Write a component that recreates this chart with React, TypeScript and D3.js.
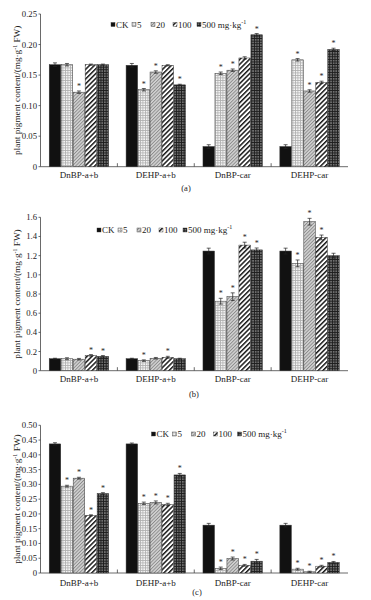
import React from "react";
import * as d3 from "d3";

const categories = ["DnBP-a+b", "DEHP-a+b", "DnBP-car", "DEHP-car"];
const seriesKeys = ["CK", "5", "20", "100", "500"];
const legendLabels = ["CK", "5", "20", "100", "500 mg·kg"];
const captions = ["(a)", "(b)", "(c)"];

// panel (a)
const valuesA = [
  [0.167, 0.167, 0.122, 0.167, 0.167],
  [0.166, 0.126, 0.155, 0.166, 0.134],
  [0.033, 0.153, 0.158, 0.178, 0.216],
  [0.033, 0.175, 0.124, 0.138, 0.192],
];
const errorsA = [
  [0.003, 0.002, 0.002, 0.001, 0.001],
  [0.003, 0.002, 0.002, 0.001, 0.001],
  [0.003, 0.002, 0.002, 0.002, 0.002],
  [0.003, 0.002, 0.002, 0.002, 0.002],
];
const starsA = [
  [0, 0, 1, 0, 0],
  [0, 1, 1, 0, 1],
  [0, 1, 1, 0, 1],
  [0, 1, 1, 1, 1],
];
const ticksA = [0, 0.05, 0.1, 0.15, 0.2, 0.25];

// panel (b)
const valuesB = [
  [0.125, 0.125, 0.12, 0.16, 0.15],
  [0.125, 0.105, 0.13, 0.14, 0.125],
  [1.248, 0.725, 0.772, 1.31, 1.26],
  [1.248, 1.12, 1.554, 1.39, 1.2],
];
const errorsB = [
  [0.005, 0.01, 0.008, 0.008, 0.008],
  [0.005, 0.008, 0.008, 0.01, 0.005],
  [0.03, 0.03, 0.04, 0.03, 0.02],
  [0.03, 0.035, 0.035, 0.025, 0.025],
];
const starsB = [
  [0, 0, 0, 1, 1],
  [0, 1, 0, 1, 0],
  [0, 1, 1, 1, 1],
  [0, 1, 1, 1, 0],
];
const ticksB = [0, 0.2, 0.4, 0.6, 0.8, 1.0, 1.2, 1.4, 1.6];

// panel (c)
const valuesC = [
  [0.437, 0.294, 0.321, 0.195, 0.269],
  [0.437, 0.236, 0.239, 0.232, 0.332],
  [0.162, 0.016, 0.049, 0.026, 0.04],
  [0.162, 0.013, 0.004, 0.023, 0.036],
];
const errorsC = [
  [0.004, 0.003, 0.003, 0.002, 0.003],
  [0.003, 0.004, 0.005, 0.004, 0.005],
  [0.006, 0.004, 0.005, 0.003, 0.006],
  [0.006, 0.003, 0.002, 0.003, 0.003],
];
const starsC = [
  [0, 1, 1, 1, 1],
  [0, 1, 1, 1, 1],
  [0, 1, 1, 1, 1],
  [0, 1, 1, 1, 1],
];
const ticksC = [0, 0.05, 0.1, 0.15, 0.2, 0.25, 0.3, 0.35, 0.4, 0.45, 0.5];

const FONT = "'Liberation Serif', 'Times New Roman', serif";
const fills = ["#111", "url(#p5)", "url(#p20)", "url(#p100)", "url(#p500)"];
const legendOffsets = [0, 21, 40, 62, 86];

const X_LEFT = 40.5;
const X_RIGHT = 348;

type PanelProps = {
  values: number[][];
  errors: number[][];
  stars: number[][];
  ticks: number[];
  decimals: number;
  yTop: number;
  yBottom: number;
  legendX: number;
  legendY: number;
  catY: number;
  caption: string;
  captionX: number;
  captionY: number;
};

function Panel(p: PanelProps) {
  const max = p.ticks[p.ticks.length - 1];
  const y = d3.scaleLinear().domain([0, max]).range([p.yBottom, p.yTop]);
  const x0 = d3
    .scaleBand<string>()
    .domain(categories)
    .range([X_LEFT, X_RIGHT])
    .paddingInner(0.227)
    .paddingOuter(0.1135);
  const x1 = d3
    .scaleBand<string>()
    .domain(seriesKeys)
    .range([0, x0.bandwidth()])
    .paddingInner(0.04);
  const fmt = d3.format(`.${p.decimals}f`);
  const step = x0.step();
  const midY = (p.yTop + p.yBottom) / 2;

  return (
    <g>
      <line x1={X_LEFT} x2={X_LEFT} y1={p.yTop} y2={p.yBottom} stroke="#444" strokeWidth={0.8} />
      <line x1={X_LEFT} x2={X_RIGHT} y1={p.yBottom} y2={p.yBottom} stroke="#444" strokeWidth={0.8} />
      {p.ticks.map((t) => (
        <g key={t}>
          <line x1={X_LEFT - 2} x2={X_LEFT} y1={y(t)} y2={y(t)} stroke="#444" strokeWidth={0.8} />
          <text
            x={X_LEFT - 3.5}
            y={y(t) + 3}
            textAnchor="end"
            fontSize={8.7}
            fontFamily={FONT}
            fill="#222"
          >
            {t === 0 ? "0" : fmt(t)}
          </text>
        </g>
      ))}
      {categories.slice(1).map((c) => {
        const bx = (x0(c) as number) - (step - x0.bandwidth()) / 2;
        return (
          <line key={c} x1={bx} x2={bx} y1={p.yBottom} y2={p.yBottom - 3.5} stroke="#444" strokeWidth={0.8} />
        );
      })}
      <text
        transform={`translate(19.5,${midY}) rotate(-90)`}
        textAnchor="middle"
        fontSize={9.2}
        fontFamily={FONT}
        fill="#222"
      >
        plant pigment content/(mg·g
        <tspan dy={-3} fontSize={6}>-1</tspan>
        <tspan dy={3}> FW)</tspan>
      </text>
      {categories.map((c, ci) =>
        seriesKeys.map((s, si) => {
          const v = p.values[ci][si];
          const e = p.errors[ci][si];
          const bx = (x0(c) as number) + (x1(s) as number);
          const bw = x1.bandwidth();
          const cx = bx + bw / 2;
          const top = y(v);
          const eTop = y(v + e);
          const eBot = y(v - e);
          return (
            <g key={c + s}>
              <rect x={bx} y={top} width={bw} height={p.yBottom - top} fill={fills[si]} stroke="#333" strokeWidth={0.5} />
              <line x1={cx} x2={cx} y1={eTop} y2={eBot} stroke="#222" strokeWidth={0.7} />
              <line x1={cx - 2} x2={cx + 2} y1={eTop} y2={eTop} stroke="#222" strokeWidth={0.7} />
              <line x1={cx - 2} x2={cx + 2} y1={eBot} y2={eBot} stroke="#222" strokeWidth={0.7} />
              {p.stars[ci][si] ? (
                <text x={cx} y={eTop - 2} textAnchor="middle" fontSize={8} fontFamily={FONT} fill="#222">
                  *
                </text>
              ) : null}
            </g>
          );
        })
      )}
      {categories.map((c) => (
        <text
          key={c}
          x={(x0(c) as number) + x0.bandwidth() / 2}
          y={p.catY}
          textAnchor="middle"
          fontSize={9}
          fontFamily={FONT}
          fill="#222"
        >
          {c}
        </text>
      ))}
      {legendLabels.map((l, i) => {
        const lx = p.legendX + legendOffsets[i];
        return (
          <g key={l}>
            <rect x={lx} y={p.legendY - 2} width={4} height={4} fill={fills[i]} stroke="#333" strokeWidth={0.4} />
            <text x={lx + 5} y={p.legendY + 3} fontSize={9} fontFamily={FONT} fill="#222">
              {l}
              {i === legendLabels.length - 1 ? (
                <tspan dy={-4} fontSize={6}>-1</tspan>
              ) : null}
            </text>
          </g>
        );
      })}
      <text x={p.captionX} y={p.captionY} textAnchor="middle" fontSize={8.5} fontFamily={FONT} fill="#222">
        {p.caption}
      </text>
    </g>
  );
}

export default function App() {
  return (
    <svg
      width={371}
      height={600}
      style={{ position: "absolute", left: 0, top: 0, background: "#fff" }}
    >
      <defs>
        <pattern id="p5" width={2.5} height={2.5} patternUnits="userSpaceOnUse">
          <rect width={2.5} height={2.5} fill="#f4f4f4" />
          <rect width={2.5} height={0.8} fill="#b0b0b0" />
          <rect width={0.8} height={2.5} fill="#b0b0b0" />
        </pattern>
        <pattern id="p20" width={2.4} height={2.4} patternUnits="userSpaceOnUse" patternTransform="rotate(-45)">
          <rect width={2.4} height={2.4} fill="#d2d2d2" />
          <rect width={2.4} height={0.9} fill="#8a8a8a" />
        </pattern>
        <pattern id="p100" width={3.4} height={3.4} patternUnits="userSpaceOnUse" patternTransform="rotate(45)">
          <rect width={3.4} height={3.4} fill="#fff" />
          <rect width={1.5} height={3.4} fill="#1a1a1a" />
        </pattern>
        <pattern id="p500" width={2.6} height={2.6} patternUnits="userSpaceOnUse">
          <rect width={2.6} height={2.6} fill="#1c1c1c" />
          <rect x={0.3} y={0.3} width={1.1} height={1.1} fill="#e8e8e8" />
        </pattern>
      </defs>
      <Panel
        values={valuesA}
        errors={errorsA}
        stars={starsA}
        ticks={ticksA}
        decimals={2}
        yTop={14}
        yBottom={166.7}
        legendX={111}
        legendY={24.5}
        catY={178}
        caption={captions[0]}
        captionX={186}
        captionY={191}
      />
      <Panel
        values={valuesB}
        errors={errorsB}
        stars={starsB}
        ticks={ticksB}
        decimals={1}
        yTop={217.3}
        yBottom={370.7}
        legendX={97}
        legendY={230}
        catY={382}
        caption={captions[1]}
        captionX={194}
        captionY={397}
      />
      <Panel
        values={valuesC}
        errors={errorsC}
        stars={starsC}
        ticks={ticksC}
        decimals={2}
        yTop={425.3}
        yBottom={573}
        legendX={151.5}
        legendY={434}
        catY={586}
        caption={captions[2]}
        captionX={197}
        captionY={594.5}
      />
    </svg>
  );
}
